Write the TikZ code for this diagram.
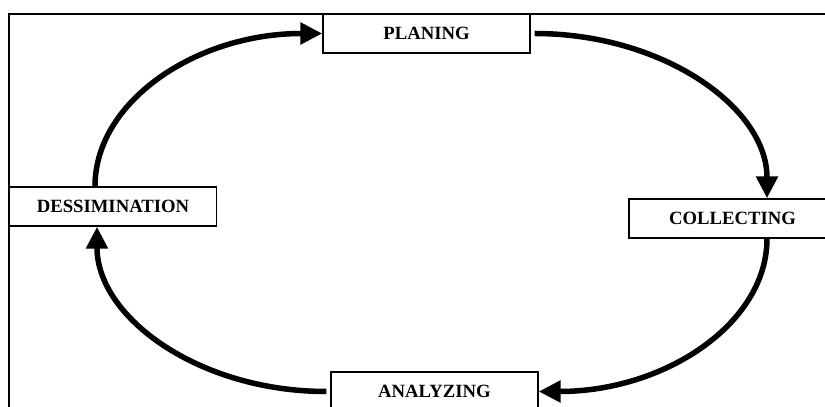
\documentclass[tikz,border=0pt]{standalone}
\usepackage{fontspec}
\setmainfont{Liberation Serif}
\usetikzlibrary{arrows.meta}
\begin{document}
\begin{tikzpicture}[x=1pt,y=1pt,
		stage/.style={draw, fill=white, line width=1.4pt, minimum width=207pt, minimum height=39pt, inner sep=0pt, font=\fontsize{18.7}{22}\selectfont\bfseries},
		flow/.style={line width=5.5pt, -{Triangle[length=22pt,width=21pt]}}]
			\useasboundingbox (0,0) rectangle (825,407);
			\clip (0,0) rectangle (825,407);
			\draw[line width=1.5pt] (9,-10) rectangle (840,393);
			\node[stage] (plan) at (426.5,373.5) {PLANING};
			\node[stage] (coll) at (732.5,188.5) {COLLECTING};
			\node[stage] (diss) at (113,200.5) {DESSIMINATION};
			\node[stage] (anal) at (434.5,15.5) {ANALYZING};
			\draw[flow] ([xshift=-18pt]diss.north) .. controls +(0,85) and +(-126,0) .. (plan.west);
			\draw[flow] ([xshift=4pt]plan.east) .. controls +(128,0) and +(0,91) .. ([xshift=34.5pt]coll.north);
			\draw[flow] ([xshift=34.5pt]coll.south) .. controls +(0,-85) and +(126,0) .. (anal.east);
			\draw[flow] ([xshift=-4pt]anal.west) .. controls +(-127,0) and +(0,-91) .. ([xshift=-16pt]diss.south);
		\end{tikzpicture}
\end{document}
